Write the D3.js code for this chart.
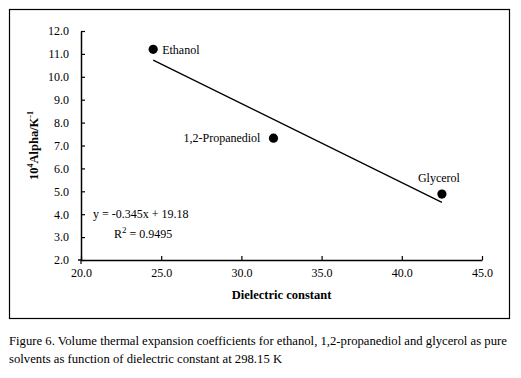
<!DOCTYPE html>
<html>
<head>
<meta charset="utf-8">
<script src="https://cdn.jsdelivr.net/npm/d3@7"></script>
<style>
  body { margin: 0; background: #fff; }
  svg, text { font-family: "Liberation Serif", "Times New Roman", "DejaVu Serif", serif; fill: #000; }
</style>
</head>
<body>
<div id="chart-area"></div>
<script>
// Data
// ****
const solvents = ["Ethanol", "1,2-Propanediol", "Glycerol"]
const dielectric = [24.5, 32.0, 42.5]
const alpha = [11.2, 7.32, 4.88]
const xTicks = [20, 25, 30, 35, 40, 45]
const yTicks = [2, 3, 4, 5, 6, 7, 8, 9, 10, 11, 12]
const fitSlope = -0.345, fitIntercept = 19.18, fitR2 = 0.9495
const caption = [
  "Figure 6. Volume thermal expansion coefficients for ethanol, 1,2-propanediol and glycerol as pure",
  "solvents as function of dielectric constant at 298.15 K"
]

// Config
// ******
const W = 521, H = 378
const margin = {top: 31, left: 81}
const width = 401, height = 229
const serif = "'Liberation Serif', 'Times New Roman', serif"

const svg = d3.select("#chart-area").append("svg")
  .attr("width", W).attr("height", H)
  .attr("font-family", serif)

// outer frame
svg.append("rect")
  .attr("x", 9.5).attr("y", 9.5)
  .attr("width", 500).attr("height", 309)
  .attr("fill", "none").attr("stroke", "#000").attr("stroke-width", 1.2)

const g = svg.append("g")
  .attr("transform", "translate(" + margin.left + "," + margin.top + ")")

const x = d3.scaleLinear().domain([20, 45]).range([0, width])
const y = d3.scaleLinear().domain([2, 12]).range([height, 0])

// Axes
const xAxis = g.append("g").attr("transform", "translate(0," + height + ")")
  .call(d3.axisBottom(x).tickValues(xTicks).tickFormat(d3.format(".1f"))
    .tickSizeInner(-4).tickSizeOuter(0).tickPadding(8))
const yAxis = g.append("g")
  .call(d3.axisLeft(y).tickValues(yTicks).tickFormat(d3.format(".1f"))
    .tickSizeInner(-4).tickSizeOuter(0).tickPadding(12))

;[xAxis, yAxis].forEach(a => {
  a.attr("font-family", serif)
  a.selectAll("path").attr("stroke", "#000").attr("stroke-width", 1.5)
  a.selectAll("line").attr("stroke", "#000").attr("stroke-width", 1.2)
  a.selectAll("text")
    .style("font-family", serif)
    .style("font-size", "12px").attr("fill", "#000")
})
// small stub left/below the origin
g.append("line").attr("x1", -3).attr("x2", 0).attr("y1", height).attr("y2", height)
  .attr("stroke", "#000").attr("stroke-width", 1.5)
g.append("line").attr("x1", 0).attr("x2", 0).attr("y1", height).attr("y2", height + 4)
  .attr("stroke", "#000").attr("stroke-width", 1.2)

// Axis labels
g.append("text")
  .attr("x", width / 2).attr("y", height + 39)
  .attr("text-anchor", "middle")
  .attr("font-size", "12.5px").attr("font-weight", "bold")
  .text("Dielectric constant")

const yl = g.append("text")
  .attr("transform", "translate(-43," + (height / 2) + ") rotate(-90)")
  .attr("text-anchor", "middle")
  .attr("font-size", "12.5px").attr("font-weight", "bold")
yl.append("tspan").text("10")
yl.append("tspan").attr("font-size", "8px").attr("dy", -5).text("4")
yl.append("tspan").attr("dy", 5).text("Alpha/K")
yl.append("tspan").attr("font-size", "8px").attr("dy", -5).text("-1")

// Trend line
const xs = d3.extent(dielectric)
g.append("line")
  .attr("x1", x(xs[0])).attr("y1", y(fitSlope * xs[0] + fitIntercept))
  .attr("x2", x(xs[1])).attr("y2", y(fitSlope * xs[1] + fitIntercept))
  .attr("stroke", "#000").attr("stroke-width", 1.3)

// Points
const pts = solvents.map((s, i) => ({name: s, x: dielectric[i], y: alpha[i]}))
g.selectAll("circle").data(pts).enter().append("circle")
  .attr("cx", d => x(d.x)).attr("cy", d => y(d.y)).attr("r", 4.6)
  .attr("fill", "#000")

// Point labels
const labelPos = {
  "Ethanol": {dx: 9, dy: 5, anchor: "start"},
  "1,2-Propanediol": {dx: -13, dy: 4, anchor: "end"},
  "Glycerol": {dx: -3, dy: -12, anchor: "middle"}
}
g.selectAll(".plabel").data(pts).enter().append("text")
  .attr("class", "plabel")
  .attr("x", d => x(d.x) + labelPos[d.name].dx)
  .attr("y", d => y(d.y) + labelPos[d.name].dy)
  .attr("text-anchor", d => labelPos[d.name].anchor)
  .attr("font-size", "12px")
  .text(d => d.name)

// Equation
g.append("text").attr("x", 12).attr("y", 187).attr("font-size", "12px")
  .text("y = " + fitSlope + "x + " + fitIntercept)
const r2 = g.append("text").attr("x", 33).attr("y", 207).attr("font-size", "12px")
r2.append("tspan").text("R")
r2.append("tspan").attr("font-size", "9px").attr("dy", -5).text("2")
r2.append("tspan").attr("dy", 5).text(" = " + fitR2)

// Caption
svg.selectAll(".caption").data(caption).enter().append("text")
  .attr("class", "caption")
  .attr("x", 9).attr("y", (d, i) => 345 + i * 18)
  .attr("font-size", "12.7px")
  .text(d => d)
</script>
</body>
</html>
